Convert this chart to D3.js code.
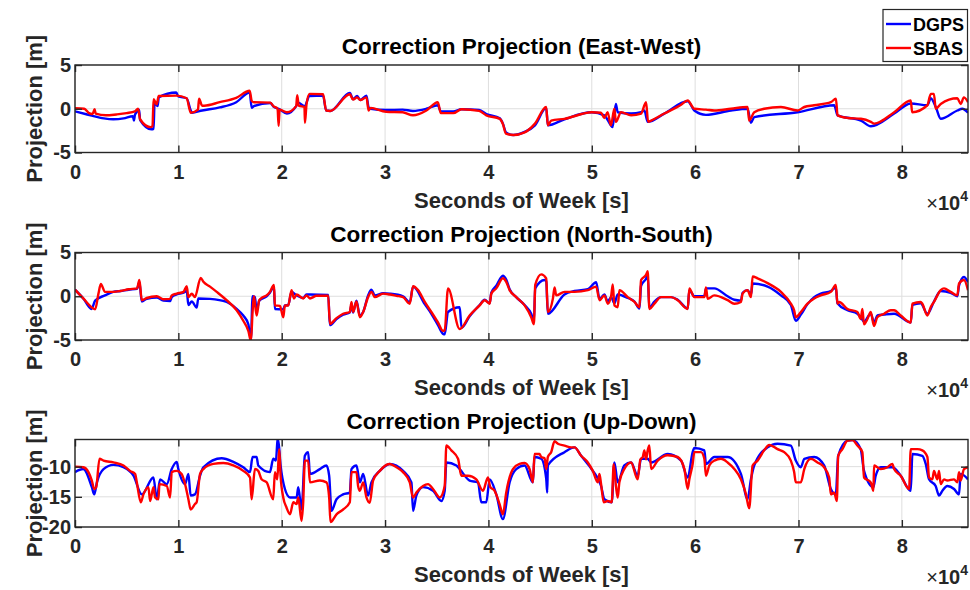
<!DOCTYPE html>
<html>
<head>
<meta charset="utf-8">
<script src="https://cdn.jsdelivr.net/npm/d3@7"></script>
<style>
  html, body { margin: 0; padding: 0; background: #fff; }
  svg { display: block; font-family: "Liberation Sans", Arial, sans-serif; }
</style>
</head>
<body>
<svg id="chart" width="970" height="590"></svg>
<script>
// Seconds of week covered by the log (one day)
const timeRange = [0, 86400];
const xTickValues = [0, 10000, 20000, 30000, 40000, 50000, 60000, 70000, 80000];

const seriesNames = ["DGPS", "SBAS"];
const panelTitles = [
  "Correction Projection (East-West)",
  "Correction Projection (North-South)",
  "Correction Projection (Up-Down)"
];
const yTicksHorizontal = [-5, 0, 5];
const yTicksVertical = [-20, -15, -10];

// [seconds of week, projection in metres]
const ewDGPS = [
  [0,-0.3],[1000,-0.6],[1500,-0.75],[2800,-1.1],[3700,-1.2],[4700,-1.1],[5600,-0.85],[5700,-1.35],[5800,-0.7],
  [6000,-0.35],[6200,-0.1],[6300,-1.3],[7400,-2.35],[7600,-2.3],[7700,0.7],[8000,0.3],[8100,1.3],[9800,1.85],
  [10000,1.4],[10800,1.2],[11200,-0.2],[11300,-0.45],[12300,-0.2],[14000,0.15],[15600,0.75],[16900,1.85],
  [17100,0.1],[17300,0.3],[18900,0.65],[19200,0.25],[19700,0.0],[20500,-0.55],[21400,0.3],[21600,0.7],
  [22200,0.3],[22700,1.45],[24000,1.5],[24300,-0.2],[24700,-0.25],[26600,1.8],[26900,1.1],[27300,1.45],
  [27600,1.0],[28200,1.5],[28400,0.2],[28600,0.0],[30100,-0.15],[31700,-0.1],[32700,-0.25],[34000,0.0],
  [35100,0.4],[35400,-0.3],[36600,-0.3],[37400,-0.05],[39100,-0.15],[39800,-0.6],[41100,-1.1],[41400,-1.7],
  [41700,-2.7],[42400,-3.0],[43500,-2.65],[44500,-1.9],[45590,0.1],[45750,-1.9],[47360,-1.2],[50000,-0.4],
  [51210,-0.75],[51850,-1.9],[52010,-2.1],[52330,0.55],[52510,-0.4],[53800,-0.55],[54770,-0.4],[55090,-0.2],
  [55410,-1.5],[57020,-0.55],[59280,0.85],[59920,-0.2],[61050,-0.7],[63460,-0.2],[65070,0.0],[65400,-1.6],
  [65720,-0.95],[69910,-0.4],[73450,0.4],[73780,-0.75],[76040,-1.35],[77000,-2.0],[79260,-0.55],[80860,0.6],
  [82470,0.4],[82800,1.2],[83280,0.2],[83760,-1.15],[85370,-0.2],[85850,0.0],[86400,-0.45]
];
const ewSBAS = [
  [0,0.05],[900,0.0],[1300,-0.45],[1700,-0.6],[1900,-0.05],[2000,-0.55],[3000,-0.75],[4000,-0.65],[5000,-0.5],
  [5800,-0.3],[6100,0.0],[6300,-1.2],[7300,-2.1],[7500,-2.0],[7600,1.1],[7900,0.5],[8100,1.45],[9800,1.5],
  [10800,1.2],[11200,-0.45],[11900,-0.1],[12000,1.15],[12300,0.35],[12500,0.35],[14000,0.75],[15600,1.25],
  [16900,2.05],[17100,0.9],[17300,0.75],[18900,0.7],[19200,0.3],[19600,0.0],[19700,-1.95],[19800,-0.1],
  [20500,-0.4],[21400,0.3],[21500,1.55],[21650,0.35],[22200,0.2],[22250,-1.6],[22400,0.5],[22700,1.7],
  [24000,1.65],[24300,-0.2],[24700,-0.25],[26600,1.65],[26900,1.05],[27300,1.3],[27600,1.0],[28200,1.3],
  [28400,-0.2],[28600,0.1],[30100,-0.35],[31700,-0.4],[32700,-0.75],[34000,-0.2],[35100,0.75],[35400,-0.5],
  [36600,-0.5],[37400,-0.05],[39100,-0.25],[39800,-0.75],[41100,-1.15],[41400,-1.75],[41700,-2.85],
  [42400,-3.0],[43500,-2.7],[44500,-1.7],[45590,0.2],[45750,-1.9],[46070,-1.35],[47360,-1.15],[50000,-0.4],
  [50890,-0.45],[51210,-1.05],[51530,-0.4],[51850,-1.9],[52190,0.0],[52330,-1.5],[52830,-0.4],[53800,-0.75],
  [54770,-0.55],[55250,0.75],[55450,-1.5],[55740,-1.35],[57020,-0.55],[58640,0.45],[59280,0.95],[59920,0.0],
  [61050,-0.1],[61850,-0.2],[63460,0.0],[65070,0.2],[65230,-1.35],[65720,-0.4],[66680,0.0],[68300,0.2],
  [69910,-0.2],[70560,0.2],[71520,0.4],[73130,0.75],[73620,1.15],[73780,-0.75],[74750,-1.05],[76040,-1.15],
  [77000,-1.5],[77320,-1.7],[79260,-0.4],[80860,0.95],[81000,-0.4],[82470,0.4],[82800,1.7],[83100,1.7],
  [83280,0.0],[83760,0.55],[85370,1.2],[85700,0.55],[86000,1.3],[86400,0.75]
];

const nsDGPS = [
  [0,0.75],[800,-0.25],[1600,-1.45],[1950,-0.5],[2900,0.1],[3700,0.5],[4400,0.6],[5200,0.75],[6000,0.85],
  [6230,1.6],[6460,-0.6],[6940,-0.3],[7910,-0.15],[8550,-0.5],[9200,-0.55],[9360,-0.1],[9840,0.2],[10500,0.4],
  [10810,0.6],[10970,-1.0],[11300,-0.6],[11770,-1.3],[11930,-0.25],[13060,-0.3],[14670,-0.65],[15640,-1.45],
  [16280,-2.2],[16770,-3.2],[17020,-4.9],[17180,0.0],[17410,-0.1],[17570,-1.65],[17830,-0.5],[18540,0.0],
  [18860,0.4],[19250,1.1],[19340,-1.45],[20150,-1.5],[20310,-1.05],[20630,-1.0],[20950,0.5],[21440,0.1],
  [22080,-0.2],[22400,0.2],[22730,0.2],[24500,0.15],[24660,-3.3],[25300,-2.6],[25940,-2.1],[26590,-1.85],
  [26750,-1.0],[26910,-1.85],[27230,-0.5],[27560,-2.2],[27880,-1.8],[28360,0.1],[28680,0.75],[29010,0.1],
  [29810,0.35],[30450,0.3],[31740,0.0],[32390,-0.7],[32710,1.1],[33840,-0.9],[34480,-2.0],[35120,-3.3],
  [35610,-4.3],[35770,-4.35],[36090,-1.8],[37220,-1.25],[37400,-3.6],[38180,-2.3],[39150,-1.0],[39630,-0.4],
  [40120,-0.8],[40280,0.4],[40760,1.2],[41400,2.35],[41720,1.9],[42050,0.8],[42690,-0.1],[43500,-1.0],
  [44140,-2.0],[44400,-2.8],[44530,0.9],[45430,1.85],[45590,1.7],[45750,-2.0],[47360,0.2],[48330,0.6],
  [49620,0.8],[50420,1.6],[50750,-0.3],[51220,0.2],[51550,-0.6],[51870,-0.1],[52190,-0.8],[52510,0.2],
  [53480,-0.2],[54130,-0.6],[54610,-1.4],[54770,1.2],[55250,2.0],[55410,2.4],[55570,-1.3],[56060,-0.6],
  [56700,-0.1],[57670,-0.1],[58310,-0.4],[59280,-1.4],[59440,0.7],[59920,0.0],[60890,0.0],[61050,0.9],
  [61850,0.9],[63140,0.0],[63790,-0.4],[64430,-0.5],[64590,0.4],[65070,0.7],[65400,0.2],[65560,1.45],
  [67010,1.1],[68300,0.1],[69260,-1.0],[69740,-2.8],[70230,-2.1],[70870,-0.9],[71520,-0.1],[72160,0.3],
  [73130,0.6],[73610,1.0],[73770,-0.8],[74740,-1.6],[75700,-2.0],[76020,-2.4],[76340,-2.9],[76990,-2.0],
  [77310,-3.0],[77630,-2.2],[78280,-2.1],[79250,-2.0],[80860,-3.0],[81020,-1.0],[81820,-0.8],[82470,-2.0],
  [83110,-0.6],[83760,0.6],[84720,0.4],[85370,0.0],[85530,1.2],[86010,2.2],[86400,1.6]
];
const nsSBAS = [
  [0,0.75],[800,-0.25],[1600,-1.25],[1950,-1.5],[2270,0.3],[2500,1.4],[2900,0.5],[3700,0.5],[4400,0.6],
  [5200,0.8],[6000,0.9],[6230,1.85],[6460,-0.45],[6940,-0.2],[7910,0.0],[8550,-0.35],[9200,-0.3],[9360,0.1],
  [9840,0.3],[10500,0.5],[10810,1.15],[10970,-0.1],[11300,0.3],[11600,-0.1],[12160,2.1],[12420,1.65],
  [13060,1.1],[13710,0.5],[14670,-0.45],[15640,-1.6],[16280,-2.8],[16770,-3.95],[17020,-5.1],[17180,-1.8],
  [17310,0.0],[17570,-2.2],[17830,-0.45],[18050,-0.2],[18540,0.1],[18860,0.5],[19250,1.3],[19340,-1.05],
  [19830,-1.1],[20150,-2.4],[20310,-1.05],[20630,-1.05],[20950,0.7],[21180,-0.25],[21440,0.2],[22080,-0.25],
  [22400,0.1],[22730,-0.25],[23370,0.05],[24500,0.05],[24660,-3.15],[25300,-2.5],[25940,-2.0],[26590,-1.8],
  [26750,-0.65],[26910,-1.8],[27230,-0.6],[27560,-2.4],[27880,-1.8],[28360,-0.1],[28680,0.5],[29010,-0.1],
  [29810,0.3],[30450,0.2],[31100,0.05],[31740,-0.1],[32390,-0.85],[32710,1.15],[33190,0.7],[33840,-0.65],
  [34480,-1.8],[35120,-3.0],[35610,-3.95],[35770,-3.9],[36090,0.9],[37220,-3.75],[38180,-2.2],[39150,-1.05],
  [39630,-0.45],[40120,-0.85],[40280,0.3],[40760,0.9],[41400,2.05],[41720,1.65],[42050,0.7],[42690,-0.1],
  [43500,-1.05],[44140,-2.4],[44400,-3.2],[44530,1.3],[45110,2.5],[45590,2.05],[45750,-1.8],[46240,-0.25],
  [46400,1.0],[46560,0.1],[47360,0.5],[48330,0.5],[49620,0.7],[50420,1.1],[50750,-0.45],[51220,0.1],
  [51550,-0.85],[51870,0.0],[52030,1.35],[52190,-1.05],[52510,-1.25],[52670,0.7],[53480,-0.1],[54130,-0.65],
  [54610,-1.25],[54770,1.85],[55250,2.45],[55410,2.85],[55570,-1.45],[56060,-0.85],[56700,-0.1],[57670,-0.1],
  [58310,-0.45],[59280,-1.45],[59440,0.9],[59920,-0.1],[60890,-0.1],[61050,1.0],[61210,-0.3],[61850,0.1],
  [63140,-0.45],[63790,-0.85],[64430,-0.65],[64590,0.3],[65070,0.7],[65400,-0.1],[65560,2.25],[66040,2.05],
  [67010,1.5],[68300,0.5],[69260,-0.85],[69580,-1.6],[69740,-2.4],[70230,-1.8],[70870,-0.85],[71520,-0.25],
  [72160,0.1],[73130,0.5],[73610,1.3],[73770,-0.85],[73930,-0.65],[74740,-1.45],[75700,-1.8],[76020,-2.6],
  [76180,-1.45],[76340,-3.2],[76670,-2.6],[76990,-1.8],[77310,-3.4],[77630,-2.4],[78280,-2.0],[78920,-1.6],
  [79250,-1.6],[79890,-2.2],[80860,-3.0],[81020,-0.85],[81820,-0.65],[81980,-0.85],[82470,-2.2],[82790,-1.25],
  [83110,-0.65],[83760,0.7],[84080,0.9],[84720,0.5],[85370,0.1],[85530,1.45],[86010,1.85],[86400,0.7]
];

const udDGPS = [
  [0,-10.9],[800,-10.4],[1630,-13.4],[1860,-14.6],[2120,-12.6],[2760,-10.4],[3720,-9.7],[4690,-10.1],
  [5660,-11.5],[6460,-14.6],[7590,-11.8],[7910,-15.4],[8230,-12.1],[8880,-12.9],[9360,-10.4],[9840,-9.2],
  [10000,-10.4],[10650,-12.9],[10970,-11.2],[11190,-14.8],[11610,-14.6],[12100,-11.5],[12420,-10.1],
  [14190,-8.6],[15320,-9.2],[16280,-10.1],[16930,-10.9],[17180,-8.4],[17570,-8.4],[17730,-9.8],[18860,-10.9],
  [19180,-8.7],[19440,-9.0],[19600,-5.6],[19660,-5.5],[19890,-9.8],[20310,-13.7],[20800,-15.1],[21440,-15.1],
  [21600,-13.4],[21920,-17.1],[22240,-8.2],[22560,-7.6],[22730,-11.2],[23690,-10.4],[24330,-9.8],
  [24590,-11.5],[24820,-17.3],[25300,-15.4],[25940,-14.6],[26590,-14.3],[26750,-10.4],[27230,-9.8],
  [27560,-12.6],[27880,-11.2],[28360,-14.8],[28680,-12.6],[29490,-10.7],[30450,-9.55],[31740,-10.7],
  [32550,-12.6],[32710,-17.3],[33030,-14.8],[33670,-13.4],[34640,-14.0],[35450,-15.7],[35770,-14.0],
  [35930,-9.3],[36900,-9.8],[37220,-10.4],[38180,-12.3],[38990,-12.6],[39310,-15.9],[39790,-15.9],
  [40120,-12.1],[40760,-14.6],[41400,-18.7],[42050,-12.6],[42690,-10.4],[43500,-9.8],[44300,-12.6],
  [44460,-8.4],[45110,-8.7],[45590,-12.0],[45690,-14.3],[45750,-9.8],[47360,-7.6],[48330,-6.8],[48970,-8.2],
  [50100,-10.7],[50900,-13.2],[51220,-15.4],[51930,-15.9],[52190,-9.3],[52510,-12.6],[53150,-9.8],
  [53800,-9.3],[54440,-11.5],[54770,-8.7],[55410,-8.7],[55740,-9.3],[57350,-7.9],[58640,-9.0],[59280,-11.8],
  [59760,-7.6],[59920,-6.9],[60890,-7.3],[61050,-9.55],[61850,-8.4],[63140,-8.4],[64430,-11.2],[65070,-15.4],
  [65400,-12.1],[65720,-9.8],[67010,-6.8],[67970,-6.2],[69260,-6.5],[69740,-9.0],[70230,-10.1],[70560,-8.7],
  [71520,-8.4],[72480,-9.8],[73130,-13.7],[73610,-14.6],[73840,-8.2],[74740,-5.7],[75220,-5.6],[76020,-7.1],
  [76340,-10.7],[77250,-13.4],[77470,-11.5],[77960,-10.1],[79080,-10.1],[79890,-11.5],[80860,-14.0],
  [81020,-7.9],[81980,-8.2],[82310,-9.55],[82630,-12.1],[83270,-13.2],[83600,-14.8],[83920,-14.0],
  [84400,-13.2],[85050,-13.7],[85530,-14.6],[85690,-11.2],[86400,-12.1]
];
const udSBAS = [
  [0,-10.0],[800,-10.1],[1300,-10.9],[1630,-12.3],[1860,-13.7],[2050,-13.4],[2370,-8.7],[2760,-9.0],
  [3720,-9.3],[4690,-9.8],[5330,-10.7],[5820,-11.2],[5980,-12.6],[6360,-15.9],[6620,-14.6],[7100,-13.4],
  [7270,-15.7],[7590,-13.4],[7750,-15.1],[8070,-15.4],[8170,-12.9],[8880,-13.2],[9200,-15.1],[9360,-10.9],
  [9840,-10.7],[10320,-11.2],[10650,-12.9],[10970,-15.4],[11190,-17.1],[11610,-16.2],[11770,-15.9],
  [12100,-11.2],[12420,-10.4],[13380,-9.55],[14350,-9.4],[15320,-9.8],[16280,-10.7],[16930,-11.8],
  [17090,-15.4],[17410,-10.4],[17730,-10.7],[18050,-12.1],[18540,-12.6],[19180,-15.4],[19340,-10.9],
  [19570,-12.1],[19760,-7.1],[19890,-11.5],[20150,-15.1],[20470,-16.8],[20800,-17.9],[21120,-15.9],
  [21440,-16.2],[21600,-15.1],[21920,-19.0],[22080,-15.9],[22240,-9.0],[22560,-9.0],[22730,-12.6],
  [23690,-12.3],[24330,-12.6],[24590,-15.1],[24720,-19.2],[25300,-17.9],[25940,-17.1],[26590,-15.9],
  [26750,-10.9],[27230,-10.9],[27390,-13.2],[27560,-14.0],[27880,-12.6],[28200,-15.1],[28520,-16.0],
  [28840,-12.3],[29490,-10.7],[30130,-9.7],[30450,-9.55],[31100,-10.1],[31740,-10.9],[32390,-12.6],
  [32710,-15.1],[33030,-14.3],[33670,-13.2],[34160,-12.9],[34640,-13.7],[35290,-15.1],[35770,-13.2],
  [35930,-6.5],[36410,-7.3],[37060,-8.7],[37380,-11.5],[38020,-11.5],[38830,-12.1],[39470,-14.0],
  [39950,-11.8],[40180,-13.4],[40600,-14.0],[41080,-16.2],[41400,-17.9],[41720,-14.3],[42370,-10.4],
  [43010,-9.55],[43500,-9.4],[43980,-10.4],[44300,-12.6],[44460,-7.9],[44940,-7.9],[45110,-8.4],[45430,-8.6],
  [45590,-10.4],[45750,-8.4],[46070,-7.6],[46400,-5.8],[46720,-6.2],[47360,-6.5],[48010,-6.8],[48330,-6.8],
  [48970,-8.2],[49620,-9.3],[50100,-10.7],[50580,-12.6],[50740,-11.2],[50900,-12.9],[51160,-15.9],
  [51550,-15.7],[51930,-15.9],[52120,-9.6],[52350,-13.4],[52510,-15.1],[52670,-12.6],[53150,-10.4],
  [53800,-9.3],[54440,-12.1],[54700,-8.8],[54930,-8.4],[55090,-7.3],[55250,-8.8],[55410,-7.3],[55570,-6.5],
  [55740,-10.4],[56380,-9.0],[57350,-8.1],[58310,-8.4],[58960,-10.4],[59280,-13.7],[59440,-12.1],
  [59760,-9.55],[59920,-7.6],[60570,-7.6],[60890,-8.7],[61050,-11.5],[61370,-9.8],[61850,-9.0],[62500,-8.7],
  [63140,-9.3],[63790,-10.4],[64430,-12.1],[64920,-14.6],[65230,-16.9],[65560,-9.8],[66040,-9.0],
  [66680,-7.3],[67170,-6.4],[67970,-7.1],[68620,-7.6],[69260,-9.0],[69580,-10.9],[69740,-12.6],[70230,-12.6],
  [70560,-10.4],[71200,-8.7],[71840,-9.3],[72480,-10.1],[72970,-11.8],[73130,-14.6],[73450,-14.3],
  [73710,-15.7],[73840,-8.2],[74250,-7.1],[74740,-5.7],[75220,-5.6],[75700,-6.5],[76180,-7.6],[76340,-11.8],
  [76990,-12.6],[77250,-14.0],[77310,-9.8],[77630,-10.1],[77960,-10.4],[78600,-10.1],[79080,-9.55],
  [79250,-10.4],[79890,-11.5],[80700,-13.7],[80860,-7.1],[81500,-7.1],[81980,-7.3],[82470,-8.4],
  [82630,-11.8],[82950,-12.1],[83110,-10.7],[83430,-12.1],[83600,-10.7],[83760,-12.9],[84080,-12.1],
  [84400,-12.3],[85050,-12.1],[85370,-12.6],[85530,-10.9],[85690,-12.3],[86010,-10.4],[86400,-10.1]
];

// ---------- layout ----------
const W = 970, H = 590;
const plotLeft = 75, plotRight = 968;
const panelTops = [65, 252.5, 439.5];
const panelHeight = 87.5;
const colors = { DGPS: "#0000ff", SBAS: "#ff0000" };
const axisColor = "#262626";
const gridColor = "#dedede";

const panels = [
  { title: panelTitles[0], yDomain: [-5, 5], yTicks: yTicksHorizontal, series: [ewDGPS, ewSBAS] },
  { title: panelTitles[1], yDomain: [-5, 5], yTicks: yTicksHorizontal, series: [nsDGPS, nsSBAS] },
  { title: panelTitles[2], yDomain: [-20, -5.5], yTicks: yTicksVertical, series: [udDGPS, udSBAS] }
];

const svg = d3.select("#chart");
svg.append("rect").attr("width", W).attr("height", H).attr("fill", "#fff");

const x = d3.scaleLinear().domain(timeRange).range([plotLeft, plotRight]);

panels.forEach((p, i) => {
  const top = panelTops[i], bottom = top + panelHeight;
  const y = d3.scaleLinear().domain(p.yDomain).range([bottom, top]);
  const g = svg.append("g");

  // grid
  g.append("g").selectAll("line").data(xTickValues).join("line")
    .attr("x1", d => x(d)).attr("x2", d => x(d)).attr("y1", top).attr("y2", bottom)
    .attr("stroke", gridColor).attr("stroke-width", 1);
  g.append("g").selectAll("line").data(p.yTicks).join("line")
    .attr("x1", plotLeft).attr("x2", plotRight).attr("y1", d => y(d)).attr("y2", d => y(d))
    .attr("stroke", gridColor).attr("stroke-width", 1);

  // series, clipped to the axes box
  const clipId = "clip" + i;
  svg.append("clipPath").attr("id", clipId).append("rect")
    .attr("x", plotLeft).attr("y", top).attr("width", plotRight - plotLeft).attr("height", panelHeight);
  const line = d3.line().x(d => x(d[0])).y(d => y(d[1])).curve(d3.curveMonotoneX);
  const lines = g.append("g").attr("clip-path", `url(#${clipId})`);
  p.series.forEach((data, k) => {
    lines.append("path").datum(data)
      .attr("d", line)
      .attr("fill", "none")
      .attr("stroke", colors[seriesNames[k]])
      .attr("stroke-width", 2.4)
      .attr("stroke-linejoin", "round");
  });

  // axes with inward ticks on all four sides
  const fmtX = d => String(d / 10000);
  const bottomAxis = d3.axisBottom(x).tickValues(xTickValues).tickFormat(fmtX).tickSize(-7).tickPadding(12);
  const topAxis = d3.axisTop(x).tickValues(xTickValues).tickFormat("").tickSize(-7);
  const leftAxis = d3.axisLeft(y).tickValues(p.yTicks).tickFormat(d => String(d)).tickSize(-7).tickPadding(4);
  const rightAxis = d3.axisRight(y).tickValues(p.yTicks).tickFormat("").tickSize(-7);

  const styleAxis = sel => {
    sel.select(".domain").remove();
    sel.selectAll(".tick line").attr("stroke", axisColor).attr("stroke-width", 1.4);
    sel.selectAll(".tick text").attr("fill", axisColor)
      .style("font-size", "20px").style("font-weight", "bold")
      .style("font-family", "'Liberation Sans', Arial, sans-serif");
  };
  g.append("g").attr("transform", `translate(0,${bottom})`).call(bottomAxis).call(styleAxis);
  g.append("g").attr("transform", `translate(0,${top})`).call(topAxis).call(styleAxis);
  g.append("g").attr("transform", `translate(${plotLeft},0)`).call(leftAxis).call(styleAxis);
  g.append("g").attr("transform", `translate(${plotRight},0)`).call(rightAxis).call(styleAxis);

  // box
  g.append("rect")
    .attr("x", plotLeft).attr("y", top).attr("width", plotRight - plotLeft).attr("height", panelHeight)
    .attr("fill", "none").attr("stroke", axisColor).attr("stroke-width", 1.4);

  // title
  g.append("text")
    .attr("x", (plotLeft + plotRight) / 2).attr("y", top - 11)
    .attr("text-anchor", "middle")
    .style("font-size", "22.5px").style("font-weight", "bold").attr("fill", "#000")
    .text(p.title);

  // x label
  g.append("text")
    .attr("x", (plotLeft + plotRight) / 2).attr("y", bottom + 55)
    .attr("text-anchor", "middle")
    .style("font-size", "22px").style("font-weight", "bold").attr("fill", axisColor)
    .text("Seconds of Week [s]");

  // exponent of the x axis
  const ex = g.append("text")
    .attr("x", plotRight).attr("y", bottom + 57)
    .attr("text-anchor", "end").attr("fill", axisColor)
    .style("font-size", "20px");
  ex.append("tspan").text("\u00d7");
  ex.append("tspan").style("font-weight", "bold").text("10");
  ex.append("tspan").attr("dy", -9).style("font-size", "14px").style("font-weight", "bold").text("4");

  // y label
  g.append("text")
    .attr("transform", `translate(42,${(top + bottom) / 2}) rotate(-90)`)
    .attr("text-anchor", "middle")
    .style("font-size", "22px").style("font-weight", "bold").attr("fill", axisColor)
    .text("Projection [m]");
});

// legend
const legend = svg.append("g");
legend.append("rect").attr("x", 883).attr("y", 9.5).attr("width", 84.5).attr("height", 52)
  .attr("fill", "#fff").attr("stroke", axisColor).attr("stroke-width", 1.2);
seriesNames.forEach((name, k) => {
  const ly = 24 + k * 24;
  legend.append("line").attr("x1", 886).attr("x2", 911).attr("y1", ly).attr("y2", ly)
    .attr("stroke", colors[name]).attr("stroke-width", 2.4);
  legend.append("text").attr("x", 913).attr("y", ly + 6.5)
    .style("font-size", "18px").style("font-weight", "bold").attr("fill", "#000")
    .text(name);
});
</script>
</body>
</html>
